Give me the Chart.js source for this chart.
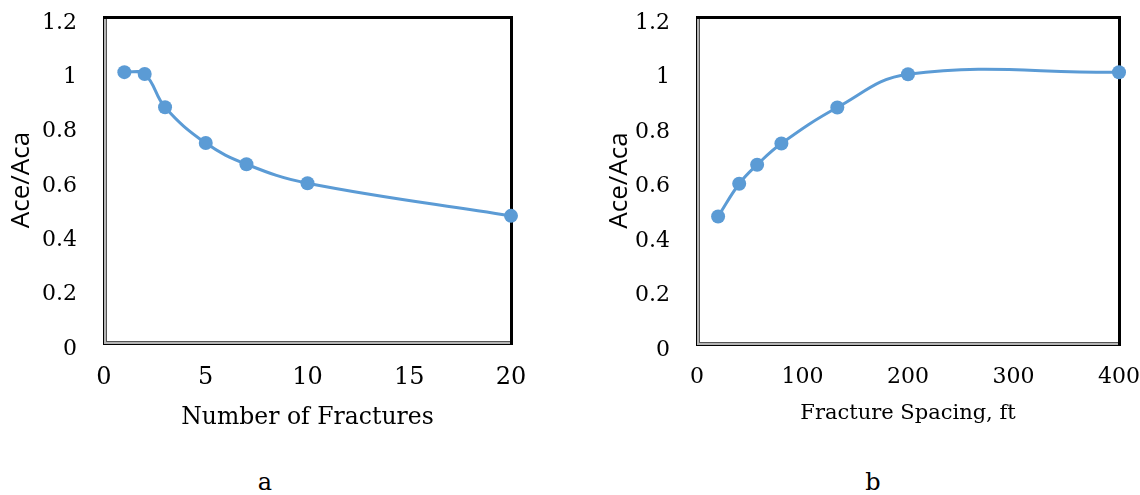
<!DOCTYPE html>
<html lang="en">
<head>
    <meta charset="UTF-8">
    <title>Ace/Aca vs fractures</title>
    <script src="https://cdn.jsdelivr.net/npm/chart.js"></script>
    <style>
        body { margin: 0; background: #fff; width: 1140px; height: 495px; position: relative; overflow: hidden; }
        canvas { position: absolute; top: 0; }
        .panel-label { position: absolute; top: 470px; width: 40px; text-align: center;
                       font-family: "DejaVu Serif"; font-size: 24px; line-height: 24px; color: #000; }
    </style>
</head>
<body>

<canvas id="chartA" width="540" height="440" style="left:0px"></canvas>
<canvas id="chartB" width="542" height="440" style="left:598px"></canvas>
<div class="panel-label" style="left:245px">a</div>
<div class="panel-label" style="left:853px">b</div>

<script>
    // values
    var fracCount = [1, 2, 3, 5, 7, 10, 20];
    var ratioA = [0.997, 0.99, 0.868, 0.736, 0.658, 0.588, 0.468];

    var spacingFt = [20, 40, 57, 80, 133, 200, 400];
    var ratioB = [0.468, 0.588, 0.658, 0.736, 0.868, 0.99, 0.997];

    var yTicks = [0, 0.2, 0.4, 0.6, 0.8, 1, 1.2];
    var xTicksA = [0, 5, 10, 15, 20];
    var xTicksB = [0, 100, 200, 300, 400];

    Chart.defaults.font.family = 'DejaVu Serif';
    Chart.defaults.color = '#000';

    // Excel-style box: thick black top/right, grey bevel left/bottom
    var framePlugin = {
        id: 'frame',
        beforeDatasetsDraw: function (chart) {
            var ctx = chart.ctx, a = chart.chartArea;
            var L = a.left, T = a.top, R = a.right, B = a.bottom;
            ctx.save();
            ctx.fillStyle = '#000';
            ctx.fillRect(L - 1, T - 1, R - L + 3, 3);
            ctx.fillRect(R - 1, T - 1, 3, B - T + 3);
            ctx.fillRect(L - 1, T, 1, B - T + 2);
            ctx.fillRect(L - 1, B + 1, R - L + 2, 1);
            ctx.fillStyle = '#b4b4b4';
            ctx.fillRect(L, T + 2, 2, B - T - 1);
            ctx.fillRect(L, B - 1, R - L - 1, 2);
            ctx.fillStyle = '#555';
            ctx.fillRect(L + 2, T + 2, 1, B - T - 3);
            ctx.fillRect(L + 2, B - 2, R - L - 3, 1);
            ctx.restore();
        }
    };

    function toPoints(xs, ys) {
        return xs.map(function (x, i) { return { x: x, y: ys[i] }; });
    }

    function useTicks(list) {
        return function (s) { s.ticks = list.map(function (v) { return { value: v }; }); };
    }

    function makeChart(id, xs, ys, xTicks, xMax, opts) {
        return new Chart(document.getElementById(id), {
            type: 'line',
            data: {
                datasets: [{
                    data: toPoints(xs, ys),
                    borderColor: '#5B9BD5',
                    backgroundColor: '#5B9BD5',
                    borderWidth: 3,
                    pointRadius: 7,
                    pointBorderWidth: 0,
                    tension: 0.4,
                    clip: false
                }]
            },
            options: {
                responsive: false,
                animation: false,
                layout: { autoPadding: false, padding: { top: 17, right: opts.padRight, left: 0, bottom: 0 } },
                plugins: { legend: { display: false }, tooltip: { enabled: false } },
                scales: {
                    x: {
                        type: 'linear', min: 0, max: xMax,
                        grid: { display: false, drawTicks: false }, border: { display: false },
                        afterBuildTicks: useTicks(xTicks),
                        afterFit: function (s) { s.height = opts.xHeight; s.paddingLeft = 0; s.paddingRight = 0; },
                        ticks: { padding: 20, font: { size: opts.xTickSize }, callback: function (v) { return String(v); } },
                        title: { display: true, text: opts.xTitle, font: { size: opts.xTitleSize },
                                 padding: { top: 0, bottom: opts.xTitlePad } }
                    },
                    y: {
                        min: 0, max: 1.2,
                        grid: { display: false, drawTicks: false }, border: { display: false },
                        afterBuildTicks: useTicks(yTicks),
                        afterFit: function (s) { s.width = opts.yWidth; s.paddingTop = 0; s.paddingBottom = 0; },
                        ticks: { padding: 27, labelOffset: 6, font: { size: 22 }, callback: function (v) { return String(v); } },
                        title: { display: true, text: 'Ace/Aca', font: { family: 'Open Sans', size: 26 },
                                 padding: { top: 6, bottom: 0 } }
                    }
                }
            },
            plugins: [framePlugin]
        });
    }

    makeChart('chartA', fracCount, ratioA, xTicksA, 20, {
        padRight: 29, xHeight: 97, yWidth: 104,
        xTickSize: 24, xTitle: 'Number of Fractures', xTitleSize: 23.5, xTitlePad: 8
    });

    makeChart('chartB', spacingFt, ratioB, xTicksB, 400, {
        padRight: 21, xHeight: 96, yWidth: 99,
        xTickSize: 22, xTitle: 'Fracture Spacing, ft', xTitleSize: 21, xTitlePad: 14
    });
</script>

</body>
</html>
